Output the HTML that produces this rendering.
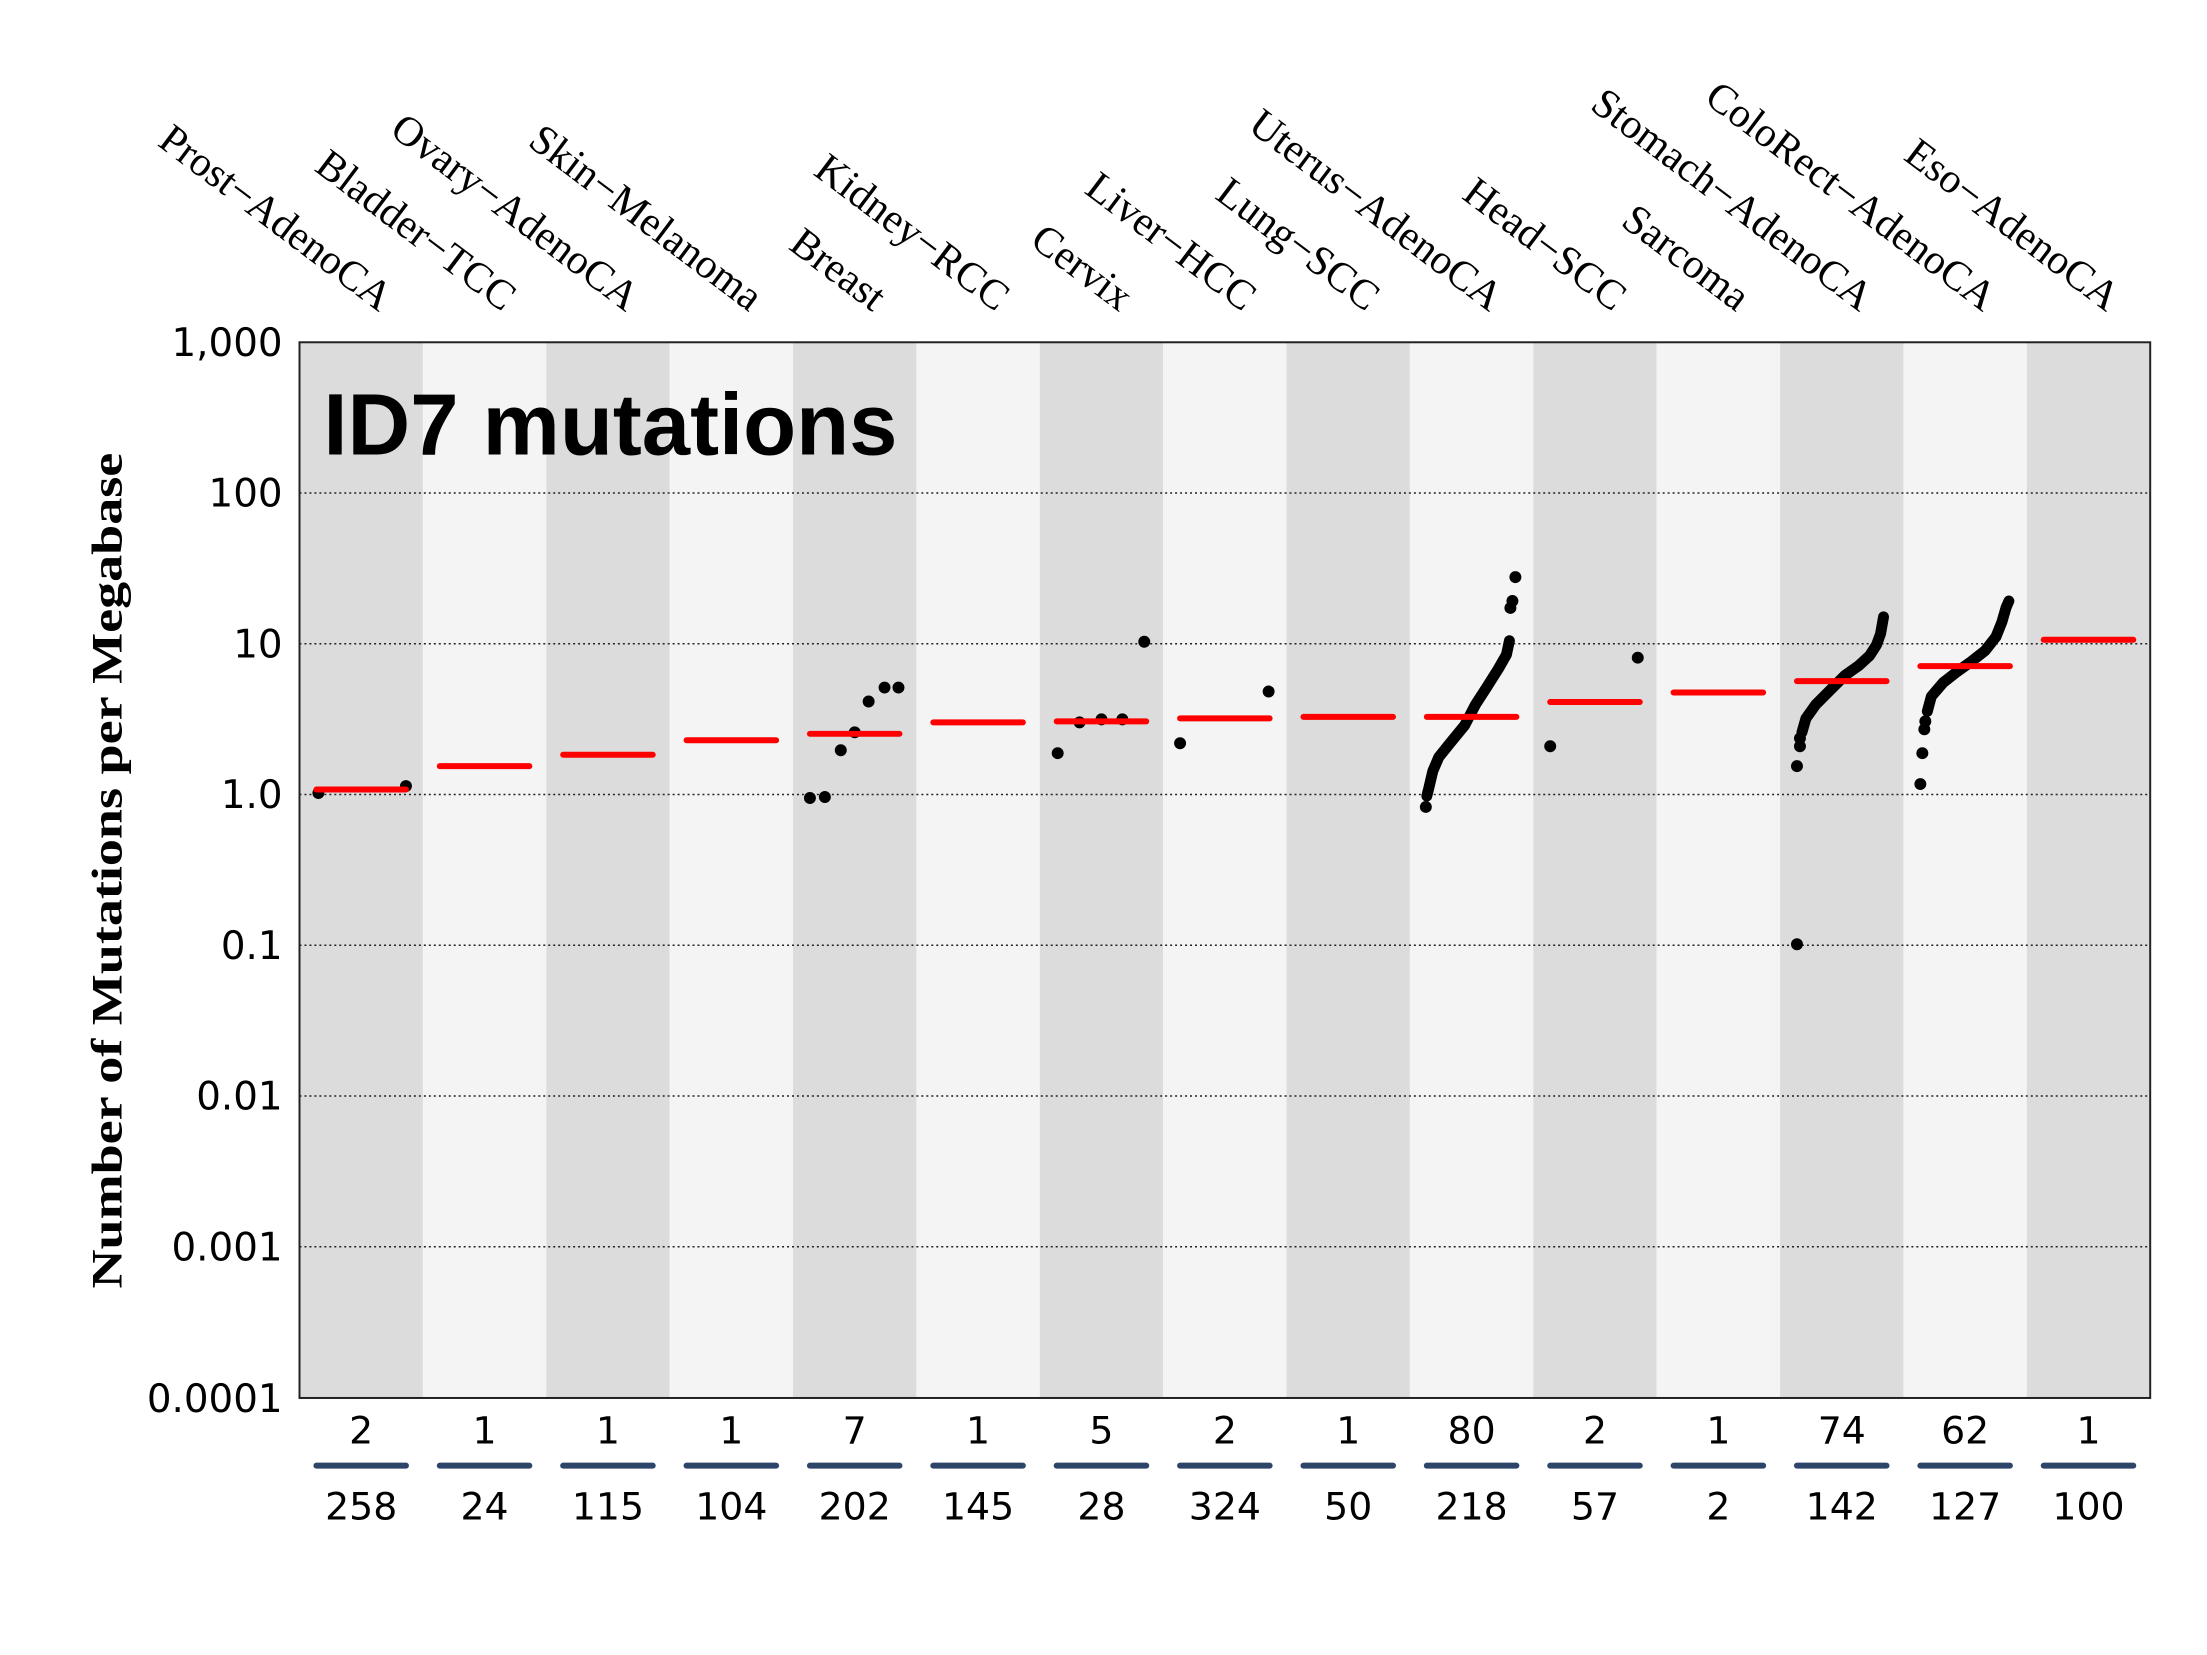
<!DOCTYPE html>
<html><head><meta charset="utf-8"><style>html,body{margin:0;padding:0;background:#fff}</style></head>
<body>
<svg width="2207" height="1650" viewBox="0 0 2207 1650" xmlns="http://www.w3.org/2000/svg">
<rect width="2207" height="1650" fill="#fff"/>
<g transform="scale(0.995)">
<g>
<rect x="301" y="344" width="124" height="1061" fill="#dcdcdc"/>
<rect x="425" y="344" width="124" height="1061" fill="#f4f4f4"/>
<rect x="549" y="344" width="124" height="1061" fill="#dcdcdc"/>
<rect x="673" y="344" width="124" height="1061" fill="#f4f4f4"/>
<rect x="797" y="344" width="124" height="1061" fill="#dcdcdc"/>
<rect x="921" y="344" width="124" height="1061" fill="#f4f4f4"/>
<rect x="1045" y="344" width="124" height="1061" fill="#dcdcdc"/>
<rect x="1169" y="344" width="124" height="1061" fill="#f4f4f4"/>
<rect x="1293" y="344" width="124" height="1061" fill="#dcdcdc"/>
<rect x="1417" y="344" width="124" height="1061" fill="#f4f4f4"/>
<rect x="1541" y="344" width="124" height="1061" fill="#dcdcdc"/>
<rect x="1665" y="344" width="124" height="1061" fill="#f4f4f4"/>
<rect x="1789" y="344" width="124" height="1061" fill="#dcdcdc"/>
<rect x="1913" y="344" width="124" height="1061" fill="#f4f4f4"/>
<rect x="2037" y="344" width="124" height="1061" fill="#dcdcdc"/>
</g>
<g stroke="#222" stroke-width="1.5" stroke-dasharray="2,3">
<line x1="301" x2="2161" y1="495.5" y2="495.5"/>
<line x1="301" x2="2161" y1="647" y2="647"/>
<line x1="301" x2="2161" y1="798.5" y2="798.5"/>
<line x1="301" x2="2161" y1="950" y2="950"/>
<line x1="301" x2="2161" y1="1101.5" y2="1101.5"/>
<line x1="301" x2="2161" y1="1253" y2="1253"/>
</g>
<rect x="301" y="344" width="1860" height="1061" fill="none" stroke="#222" stroke-width="2"/>
<g font-family="DejaVu Sans, sans-serif" font-size="39" text-anchor="end" fill="#000">
<text x="284" y="358">1,000</text>
<text x="284" y="509">100</text>
<text x="284" y="661">10</text>
<text x="284" y="812">1.0</text>
<text x="284" y="964">0.1</text>
<text x="284" y="1115">0.01</text>
<text x="284" y="1267">0.001</text>
<text x="284" y="1419">0.0001</text>
</g>
<text transform="translate(122,875) rotate(-90)" font-family="Liberation Serif, serif" font-weight="bold" font-size="44" text-anchor="middle" textLength="840" lengthAdjust="spacingAndGlyphs">Number of Mutations per Megabase</text>
<text x="325" y="457" font-family="Liberation Sans, sans-serif" font-weight="bold" font-size="88" textLength="577" lengthAdjust="spacingAndGlyphs">ID7 mutations</text>
<g font-family="Liberation Serif, serif" font-size="42" text-anchor="end" fill="#000">
<text transform="translate(381,314) rotate(37)">Prost−AdenoCA</text>
<text transform="translate(505,314) rotate(37)">Bladder−TCC</text>
<text transform="translate(629,314) rotate(37)">Ovary−AdenoCA</text>
<text transform="translate(753,314) rotate(37)">Skin−Melanoma</text>
<text transform="translate(877,314) rotate(37)">Breast</text>
<text transform="translate(1001,314) rotate(37)">Kidney−RCC</text>
<text transform="translate(1125,314) rotate(37)">Cervix</text>
<text transform="translate(1249,314) rotate(37)">Liver−HCC</text>
<text transform="translate(1373,314) rotate(37)">Lung−SCC</text>
<text transform="translate(1497,314) rotate(37)">Uterus−AdenoCA</text>
<text transform="translate(1621,314) rotate(37)">Head−SCC</text>
<text transform="translate(1745,314) rotate(37)">Sarcoma</text>
<text transform="translate(1869,314) rotate(37)">Stomach−AdenoCA</text>
<text transform="translate(1993,314) rotate(37)">ColoRect−AdenoCA</text>
<text transform="translate(2117,314) rotate(37)">Eso−AdenoCA</text>
</g>
<g fill="#000">
<circle cx="320" cy="797" r="6"/><circle cx="408" cy="790" r="6"/>
<circle cx="814" cy="802" r="6"/><circle cx="829" cy="801" r="6"/><circle cx="845" cy="754" r="6"/><circle cx="859" cy="736" r="6"/><circle cx="873" cy="705" r="6"/><circle cx="889" cy="691" r="6"/><circle cx="903" cy="691" r="6"/>
<circle cx="1063" cy="757" r="6"/><circle cx="1085" cy="726" r="6"/><circle cx="1107" cy="723" r="6"/><circle cx="1128" cy="723" r="6"/><circle cx="1150" cy="645" r="6"/>
<circle cx="1186" cy="747" r="6"/><circle cx="1275" cy="695" r="6"/>
<circle cx="1433" cy="811" r="6"/><circle cx="1518" cy="611" r="6"/><circle cx="1520" cy="604" r="6"/><circle cx="1523" cy="580" r="6"/>
<circle cx="1558" cy="750" r="6"/><circle cx="1646" cy="661" r="6"/>
<circle cx="1806" cy="949" r="6"/><circle cx="1806" cy="770" r="6"/><circle cx="1809" cy="750" r="6"/><circle cx="1809" cy="742" r="6"/>
<circle cx="1930" cy="788" r="6"/><circle cx="1932" cy="757" r="6"/><circle cx="1934" cy="733" r="6"/><circle cx="1935" cy="725" r="6"/>
</g>
<g fill="none" stroke="#000" stroke-width="11" stroke-linecap="round" stroke-linejoin="round">
<polyline points="1434,800 1436,792 1440,775 1446,761 1458,746 1472,729 1483,708 1494,691 1506,672 1514,658 1517,644"/>
<polyline points="1811,736 1815,722 1825,708 1840,693 1854,679 1868,669 1879,659 1886,648 1890,637 1893,620"/>
<polyline points="1937,715 1941,700 1953,686 1967,675 1981,665 1995,654 2006,640 2012,625 2016,611 2019,604"/>
</g>
<g stroke="#f00" stroke-width="6" stroke-linecap="round">
<line x1="318" x2="408" y1="793.5" y2="793.5"/>
<line x1="442" x2="532" y1="770" y2="770"/>
<line x1="566" x2="656" y1="758.5" y2="758.5"/>
<line x1="690" x2="780" y1="744" y2="744"/>
<line x1="814" x2="904" y1="737.5" y2="737.5"/>
<line x1="938" x2="1028" y1="726" y2="726"/>
<line x1="1062" x2="1152" y1="725" y2="725"/>
<line x1="1186" x2="1276" y1="722" y2="722"/>
<line x1="1310" x2="1400" y1="720.5" y2="720.5"/>
<line x1="1434" x2="1524" y1="720.5" y2="720.5"/>
<line x1="1558" x2="1648" y1="705.5" y2="705.5"/>
<line x1="1682" x2="1772" y1="696" y2="696"/>
<line x1="1806" x2="1896" y1="684.5" y2="684.5"/>
<line x1="1930" x2="2020" y1="669.5" y2="669.5"/>
<line x1="2054" x2="2144" y1="643" y2="643"/>
</g>
<g stroke="#2d4569" stroke-width="6" stroke-linecap="round">
<line x1="318" x2="408" y1="1473" y2="1473"/>
<line x1="442" x2="532" y1="1473" y2="1473"/>
<line x1="566" x2="656" y1="1473" y2="1473"/>
<line x1="690" x2="780" y1="1473" y2="1473"/>
<line x1="814" x2="904" y1="1473" y2="1473"/>
<line x1="938" x2="1028" y1="1473" y2="1473"/>
<line x1="1062" x2="1152" y1="1473" y2="1473"/>
<line x1="1186" x2="1276" y1="1473" y2="1473"/>
<line x1="1310" x2="1400" y1="1473" y2="1473"/>
<line x1="1434" x2="1524" y1="1473" y2="1473"/>
<line x1="1558" x2="1648" y1="1473" y2="1473"/>
<line x1="1682" x2="1772" y1="1473" y2="1473"/>
<line x1="1806" x2="1896" y1="1473" y2="1473"/>
<line x1="1930" x2="2020" y1="1473" y2="1473"/>
<line x1="2054" x2="2144" y1="1473" y2="1473"/>
</g>
<g font-family="DejaVu Sans, sans-serif" font-size="38" text-anchor="middle" fill="#000">
<text x="363" y="1451">2</text><text x="487" y="1451">1</text><text x="611" y="1451">1</text><text x="735" y="1451">1</text><text x="859" y="1451">7</text><text x="983" y="1451">1</text><text x="1107" y="1451">5</text><text x="1231" y="1451">2</text><text x="1355" y="1451">1</text><text x="1479" y="1451">80</text><text x="1603" y="1451">2</text><text x="1727" y="1451">1</text><text x="1851" y="1451">74</text><text x="1975" y="1451">62</text><text x="2099" y="1451">1</text>
<text x="363" y="1527">258</text><text x="487" y="1527">24</text><text x="611" y="1527">115</text><text x="735" y="1527">104</text><text x="859" y="1527">202</text><text x="983" y="1527">145</text><text x="1107" y="1527">28</text><text x="1231" y="1527">324</text><text x="1355" y="1527">50</text><text x="1479" y="1527">218</text><text x="1603" y="1527">57</text><text x="1727" y="1527">2</text><text x="1851" y="1527">142</text><text x="1975" y="1527">127</text><text x="2099" y="1527">100</text>
</g>
</g>
</svg>
</body></html>
